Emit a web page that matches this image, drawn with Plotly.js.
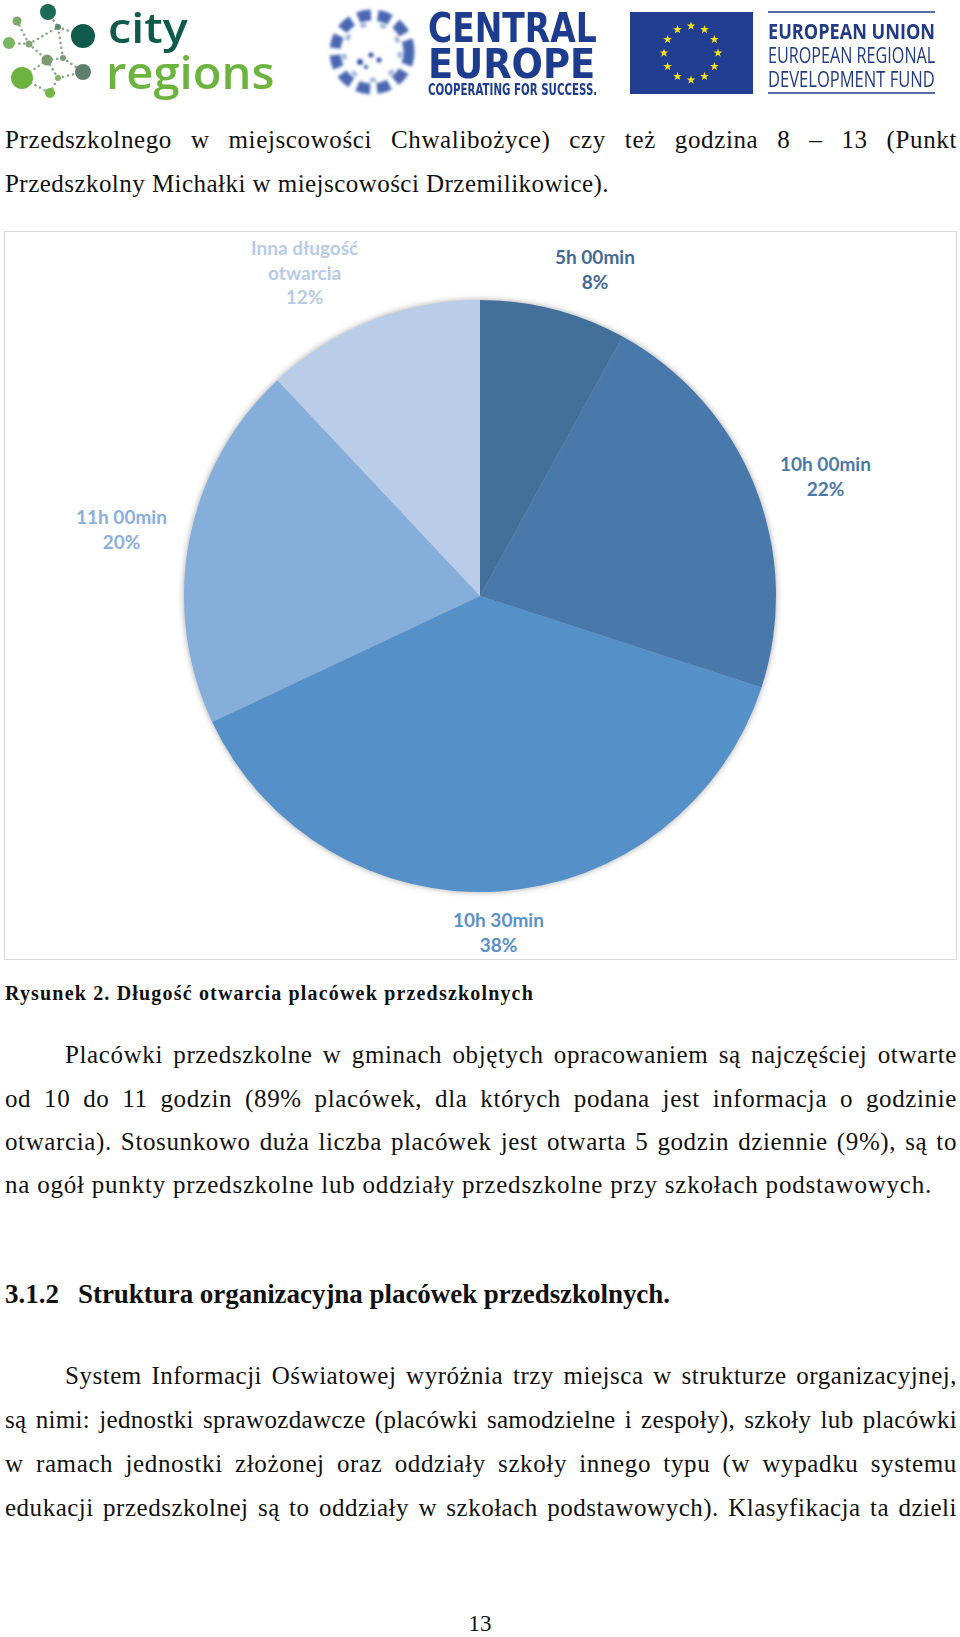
<!DOCTYPE html>
<html><head><meta charset="utf-8">
<script src="https://cdn.plot.ly/plotly-3.0.1.min.js"></script>
<style>
html,body{margin:0;padding:0;background:#fff;}
#page{position:relative;width:960px;height:1637px;overflow:hidden;background:#fff;}
.ln{position:absolute;white-space:nowrap;font-family:"Liberation Serif",serif;font-size:25px;line-height:25px;color:#111;}
.just{text-align:justify;text-align-last:justify;}
.b{font-weight:bold;}
.logo{position:absolute;white-space:nowrap;transform-origin:0 0;}
#chart{position:absolute;left:4px;top:231px;width:953px;height:729px;}
#frame{position:absolute;left:4px;top:231px;width:953px;height:729px;box-sizing:border-box;border:1px solid #d9d9d9;pointer-events:none;}
#chart .pielayer{filter:drop-shadow(0px 0px 3px rgba(0,0,0,0.35));}
#hdr{position:absolute;left:0;top:0;}
</style>
</head><body>
<div id="page">
<svg id="hdr" width="960" height="105" xmlns="http://www.w3.org/2000/svg">
  <defs>
    <filter id="bl" x="-20%" y="-20%" width="140%" height="140%"><feGaussianBlur stdDeviation="1.6"/></filter>
  </defs>
  <!-- city regions logo -->
  <g stroke="#8aa98a" stroke-width="2.6" stroke-linecap="round" stroke-dasharray="0.1 5" fill="none">
    <line x1="48" y1="12" x2="58" y2="27"/><line x1="58" y1="27" x2="83" y2="36"/>
    <line x1="17" y1="21" x2="29" y2="44"/><line x1="9" y1="43" x2="29" y2="44"/>
    <line x1="29" y1="44" x2="58" y2="27"/><line x1="29" y1="44" x2="47" y2="60"/>
    <line x1="47" y1="60" x2="63" y2="58"/><line x1="63" y1="58" x2="83" y2="72"/>
    <line x1="63" y1="58" x2="58" y2="27"/><line x1="47" y1="60" x2="22" y2="78"/>
    <line x1="22" y1="78" x2="50" y2="93"/><line x1="50" y1="93" x2="58" y2="78"/>
    <line x1="58" y1="78" x2="83" y2="72"/><line x1="58" y1="78" x2="47" y2="60"/>
  </g>
  <circle cx="48" cy="12" r="8" fill="#1d6a5a"/>
  <circle cx="83" cy="36" r="12" fill="#0f5a4a"/>
  <circle cx="17" cy="21" r="4.5" fill="#7ca86c"/>
  <circle cx="9" cy="43" r="6" fill="#7db564"/>
  <circle cx="29" cy="44" r="3.5" fill="#86a67a"/>
  <circle cx="47" cy="60" r="5.5" fill="#7f9a70"/>
  <circle cx="63" cy="58" r="3" fill="#7a9a7a"/>
  <circle cx="83" cy="72" r="8" fill="#5e7f6d"/>
  <circle cx="22" cy="78" r="11" fill="#6db33f"/>
  <circle cx="58" cy="78" r="3" fill="#86b36a"/>
  <circle cx="50" cy="93" r="5" fill="#75b548"/>
  <circle cx="58" cy="27" r="3" fill="#5f8a6f"/>
  <!-- central europe swirl -->
  <g filter="url(#bl)">
    <circle cx="372" cy="52" r="37" fill="none" stroke="#2c4ca3" stroke-width="11" stroke-dasharray="13 7" opacity="0.85"/>
    <circle cx="372" cy="52" r="28" fill="none" stroke="#5b78c0" stroke-width="4" stroke-dasharray="6 14" opacity="0.6"/>
    <circle cx="360" cy="62" r="3" fill="#2c4ca3"/><circle cx="371" cy="55" r="2.5" fill="#2c4ca3"/>
    <circle cx="379" cy="60" r="2.5" fill="#2c4ca3"/><circle cx="366" cy="67" r="2" fill="#2c4ca3"/>
  </g>
  <!-- EU flag -->
  <rect x="630" y="12" width="123" height="82" fill="#213e91"/>
  <g id="stars" fill="#f3e01d"></g>
  <line x1="768" y1="12" x2="935" y2="12" stroke="#233a84" stroke-width="1.5"/>
  <line x1="768" y1="93" x2="935" y2="93" stroke="#233a84" stroke-width="1.5"/>
</svg>

<div class="logo" data-w="80" style="left:108px;top:12px;height:30px;line-height:30px;font-family:'Open Sans';font-weight:600;font-size:42px;color:#0e5a4d">city</div>
<div class="logo" data-w="168" style="left:106px;top:56px;height:30px;line-height:30px;font-family:'Open Sans';font-weight:600;font-size:46px;color:#6db33f">regions</div>
<div class="logo" data-w="169" style="left:428px;top:14px;height:28px;line-height:28px;font-family:'DejaVu Sans';font-weight:bold;font-size:40px;color:#1d3c8e">CENTRAL</div>
<div class="logo" data-w="167" style="left:428px;top:50px;height:28px;line-height:28px;font-family:'DejaVu Sans';font-weight:bold;font-size:40px;color:#1d3c8e">EUROPE</div>
<div class="logo" data-w="169" style="left:428px;top:84px;height:12px;line-height:12px;font-family:'DejaVu Sans';font-weight:bold;font-size:15px;color:#1d3c8e">COOPERATING FOR SUCCESS.</div>
<div class="logo" data-w="167" style="left:768px;top:21px;height:18px;line-height:18px;font-family:'Open Sans';font-weight:bold;font-size:22px;color:#233a84">EUROPEAN UNION</div>
<div class="logo" data-w="167" style="left:768px;top:46px;height:18px;line-height:18px;font-family:'Open Sans';font-size:21px;color:#233a84">EUROPEAN REGIONAL</div>
<div class="logo" data-w="167" style="left:768px;top:70px;height:18px;line-height:18px;font-family:'Open Sans';font-size:21px;color:#233a84">DEVELOPMENT FUND</div>

<div class="ln just" style="left:5px;width:952px;top:127px">Przedszkolnego w miejscowości Chwalibożyce) czy też godzina 8 – 13 (Punkt</div>
<div class="ln fit" data-w="604" style="left:5px;top:171px">Przedszkolny Michałki w miejscowości Drzemilikowice).</div>

<div id="chart"></div>
<div id="frame"></div>

<div class="ln fit b" data-w="529" style="left:5px;top:983px;font-size:20px;line-height:20px">Rysunek 2. Długość otwarcia placówek przedszkolnych</div>

<div class="ln just" style="left:65px;width:892px;top:1042px">Placówki przedszkolne w gminach objętych opracowaniem są najczęściej otwarte</div>
<div class="ln just" style="left:5px;width:952px;top:1086px">od 10 do 11 godzin (89% placówek, dla których podana jest informacja o godzinie</div>
<div class="ln just" style="left:5px;width:952px;top:1129px">otwarcia). Stosunkowo duża liczba placówek jest otwarta 5 godzin dziennie (9%), są to</div>
<div class="ln fit" data-w="927" style="left:5px;top:1172px">na ogół punkty przedszkolne lub oddziały przedszkolne przy szkołach podstawowych.</div>

<div class="ln fit b" data-w="54" style="left:5px;top:1281px;font-size:27px;line-height:27px">3.1.2</div>
<div class="ln fit b" data-w="592" style="left:78px;top:1281px;font-size:27px;line-height:27px">Struktura organizacyjna placówek przedszkolnych.</div>

<div class="ln just" style="left:65px;width:892px;top:1363px">System Informacji Oświatowej wyróżnia trzy miejsca w strukturze organizacyjnej,</div>
<div class="ln just" style="left:5px;width:952px;top:1407px">są nimi: jednostki sprawozdawcze (placówki samodzielne i zespoły), szkoły lub placówki</div>
<div class="ln just" style="left:5px;width:952px;top:1451px">w ramach jednostki złożonej oraz oddziały szkoły innego typu (w wypadku systemu</div>
<div class="ln just" style="left:5px;width:952px;top:1495px">edukacji przedszkolnej są to oddziały w szkołach podstawowych). Klasyfikacja ta dzieli</div>

<div class="ln" style="left:440px;width:80px;text-align:center;top:1612px;font-size:23px;line-height:23px">13</div>
</div>

<script>
// ---- chart data ----
const categories = ['5h 00min', '10h 00min', '10h 30min', '11h 00min', 'Inna długość<br>otwarcia'];
const shares = [8, 22, 38, 20, 12];
const sliceColors = ['#43709b', '#4879aa', '#5690c9', '#86aedb', '#b9cde8'];
const labelColors = ['#416a94', '#4b79a6', '#5a90c8', '#8aaedb', '#b7cbe6'];
const labelPos = [[0.6201, 0.9479], [0.8615, 0.6639], [0.5194, 0.0384], [0.1228, 0.5912], [0.3148, 0.9438]];

// EU stars (decoration)
(function(){
  const g = document.getElementById('stars');
  const cx = 691, cy = 53, R = 27, ro = 4.6, ri = 1.85;
  for (let k = 0; k < 12; k++) {
    const a = k * Math.PI / 6;
    const sx = cx + R * Math.sin(a), sy = cy - R * Math.cos(a);
    let pts = [];
    for (let j = 0; j < 10; j++) {
      const r = j % 2 ? ri : ro, b = j * Math.PI / 5;
      pts.push((sx + r * Math.sin(b)).toFixed(2) + ',' + (sy - r * Math.cos(b)).toFixed(2));
    }
    const p = document.createElementNS('http://www.w3.org/2000/svg', 'polygon');
    p.setAttribute('points', pts.join(' '));
    g.appendChild(p);
  }
})();

const trace = {
  type: 'pie',
  values: shares,
  labels: categories,
  sort: false,
  direction: 'clockwise',
  rotation: 0,
  textinfo: 'none',
  hoverinfo: 'none',
  showlegend: false,
  marker: { colors: sliceColors, line: { width: 0 } },
  domain: { x: [0.18888, 0.81007], y: [0.09328, 0.90535] }
};

const annotations = categories.map((c, i) => ({
  xref: 'paper', yref: 'paper',
  x: labelPos[i][0], y: labelPos[i][1],
  xanchor: 'center', yanchor: 'middle',
  text: c + '<br>' + shares[i] + '%',
  showarrow: false, align: 'center',
  font: { family: 'Lato, "Open Sans", sans-serif', size: 19, color: labelColors[i], weight: 'bold' }
}));

Plotly.newPlot('chart', [trace], {
  width: 953, height: 729,
  margin: { l: 0, r: 0, t: 0, b: 0 },
  paper_bgcolor: 'rgba(0,0,0,0)', plot_bgcolor: 'rgba(0,0,0,0)',
  annotations: annotations,
  showlegend: false
}, { staticPlot: true, displayModeBar: false });

// ---- fit text widths ----
function fitAll(){
  document.querySelectorAll('.logo').forEach(el => {
    el.style.transform = 'none';
    const w = el.scrollWidth;
    el.style.transform = 'scaleX(' + (+el.dataset.w / w).toFixed(4) + ')';
  });
  let lsSum = 0, lsN = 0;
  document.querySelectorAll('.fit').forEach(el => {
    el.style.letterSpacing = '0px';
    const w = el.getBoundingClientRect().width;
    const n = el.textContent.length;
    const ls = (+el.dataset.w - w) / n;
    el.style.letterSpacing = ls.toFixed(3) + 'px';
    if (!el.classList.contains('b')) { lsSum += ls; lsN++; }
  });
  const avg = lsN ? lsSum / lsN : 0;
  document.querySelectorAll('.just').forEach(el => {
    const target = el.getBoundingClientRect().width;
    const clone = el.cloneNode(true);
    clone.style.width = 'auto'; clone.style.letterSpacing = '0px'; clone.style.visibility = 'hidden';
    clone.classList.remove('just');
    el.parentNode.appendChild(clone);
    const w0 = clone.getBoundingClientRect().width;
    clone.remove();
    const n = el.textContent.length;
    const ls = Math.min(avg, (target - w0) / n - 0.3);
    el.style.letterSpacing = ls.toFixed(3) + 'px';
  });
}
fitAll();
if (document.fonts && document.fonts.ready) document.fonts.ready.then(fitAll);
</script>
</body></html>
